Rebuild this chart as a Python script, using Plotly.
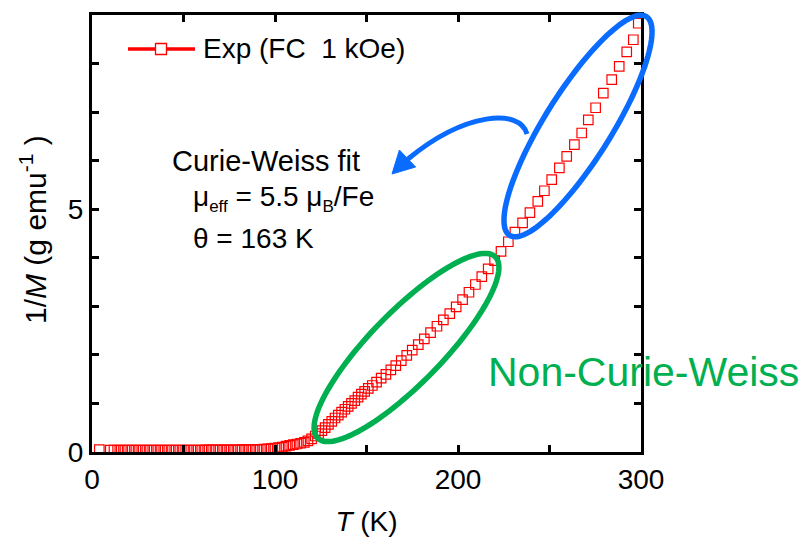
import plotly.graph_objects as go

# ---------------- data ----------------
T_low = [4, 10, 12, 14, 16, 18, 20, 22, 24, 26, 28, 30, 32, 34, 36, 38, 40, 42, 44, 46,
         48, 50, 52, 54, 56, 58, 60, 62, 64, 66, 68, 70, 72, 74, 76, 78, 80, 82, 84, 86,
         88, 90, 92, 94, 96, 98, 100, 102, 104, 106, 108, 110, 112, 114, 116, 118, 120]
invM_low = [0.05, 0.04, 0.04, 0.04, 0.04, 0.04, 0.04, 0.04, 0.04, 0.04, 0.04, 0.04, 0.04, 0.04, 0.04, 0.04,
            0.04, 0.04, 0.04, 0.04, 0.04, 0.04, 0.04, 0.04, 0.04, 0.04, 0.04, 0.045, 0.045, 0.045, 0.045,
            0.045, 0.045, 0.045, 0.045, 0.045, 0.045, 0.05, 0.05, 0.05, 0.05, 0.05, 0.055, 0.06, 0.065,
            0.07, 0.08, 0.09, 0.10, 0.12, 0.135, 0.15, 0.165, 0.18, 0.20, 0.23, 0.27]

T_mid = [122, 123.8, 125.6, 127.4, 129.2, 131, 132.8, 134.6, 136.4, 138.2, 140, 141.8, 143.6,
         145.4, 147.2, 149, 151, 153.2, 155.5, 158, 160.6, 163.3, 166, 169, 172, 175, 178.3,
         181.6, 185, 188.5, 192, 195.5, 199, 202.5, 206, 209.5, 213, 216.5, 220, 223.5, 227.5]
invM_mid = [0.33, 0.38, 0.44, 0.50, 0.57, 0.63, 0.70, 0.76, 0.82, 0.88, 0.94, 1.00, 1.06,
            1.13, 1.19, 1.25, 1.31, 1.37, 1.44, 1.52, 1.60, 1.69, 1.78, 1.88, 1.99, 2.10, 2.21,
            2.33, 2.46, 2.59, 2.72, 2.85, 2.99, 3.14, 3.29, 3.45, 3.61, 3.77, 3.94, 4.13, 4.33]

T_high = [231.1, 235.3, 239.3, 243.6, 247.2, 251.2, 255.4, 259.4, 263.6, 267.6, 271.2,
          275.2, 279.4, 284.0, 288.1, 292.2, 295.8, 298.5]
invM_high = [4.53, 4.72, 4.93, 5.16, 5.38, 5.61, 5.85, 6.09, 6.33, 6.57, 6.84,
             7.09, 7.39, 7.67, 7.94, 8.24, 8.49, 8.83]

x_tickvals = [0, 100, 200, 300]
y_tickvals = [0, 5]

series_name = "Exp (FC\u00a0 1 kOe)"
fit_title = "Curie-Weiss fit"
fit_mu = ("\u03bc<sub><span style='font-size:17px'>eff</span></sub> = 5.5 "
          "\u03bc<sub><span style='font-size:17px'>B</span></sub>/Fe")
fit_theta = "\u03b8 = 163 K"
non_cw = "Non-Curie-Weiss"
x_title = "<i>T</i> (K)"
y_title = "1/<i>M</i> (g emu<sup>-1</sup>\u00a0)"

T = T_low + T_mid + T_high
invM = invM_low + invM_mid + invM_high

# ---------------- layout geometry ----------------
W, H = 804, 544
L, R, TOP, B = 92, 641, 15, 452
FONT = "Liberation Sans, Arial, Helvetica, sans-serif"
RED = "#FF0000"
GREEN = "#00B050"
BLUE = "#0A6CFF"


def px(x, y):
    """pixel position -> paper coordinates"""
    return (x - L) / (R - L), (B - y) / (B - TOP)


def ellipse_path(cx, cy, a, b, ux, uy, n=120):
    import math
    vx, vy = -uy, ux
    pts = []
    for i in range(n + 1):
        t = 2 * math.pi * i / n
        x = cx + a * math.cos(t) * ux + b * math.sin(t) * vx
        y = cy + a * math.cos(t) * uy + b * math.sin(t) * vy
        pts.append(px(x, y))
    return "M " + " L ".join(f"{p[0]:.5f},{p[1]:.5f}" for p in pts) + " Z"


def pt(x, y):
    p = px(x, y)
    return f"{p[0]:.5f},{p[1]:.5f}"


fig = go.Figure()
fig.add_trace(go.Scatter(
    x=T, y=invM, mode="markers",
    marker=dict(symbol="square-open", size=9.5, color=RED, line=dict(width=1.2, color=RED)),
    showlegend=False,
))

shapes = []
# ellipses
shapes.append(dict(type="path", xref="paper", yref="paper",
                   path=ellipse_path(406.5, 347.5, 127, 36, 0.699, -0.714),
                   line=dict(color=GREEN, width=5.5)))
shapes.append(dict(type="path", xref="paper", yref="paper",
                   path=ellipse_path(578, 126, 129, 33.5, 0.530, -0.848),
                   line=dict(color=BLUE, width=5.5)))
# curved arrow
shapes.append(dict(type="path", xref="paper", yref="paper",
                   path=f"M {pt(527,134)} C {pt(520,108)} {pt(465,112)} {pt(408,159)}",
                   line=dict(color=BLUE, width=5)))
shapes.append(dict(type="path", xref="paper", yref="paper",
                   path=f"M {pt(392,174)} L {pt(399.4,150)} L {pt(415.6,167)} Z",
                   fillcolor=BLUE, line=dict(color=BLUE, width=1)))
# legend glyph
x0, y0 = px(128, 49)
x1, _ = px(195, 49)
shapes.append(dict(type="line", xref="paper", yref="paper", x0=x0, y0=y0, x1=x1, y1=y0,
                   line=dict(color=RED, width=3.5)))
a0 = px(155.5, 43.5)
a1 = px(166.5, 54.5)
shapes.append(dict(type="rect", xref="paper", yref="paper", x0=a0[0], y0=a1[1], x1=a1[0], y1=a0[1],
                   fillcolor="white", line=dict(color=RED, width=1.3)))

annotations = []


def add_text(text, x, y, size=28, color="black", xanchor="left", angle=0):
    p = px(x, y)
    annotations.append(dict(text=text, x=p[0], y=p[1], xref="paper", yref="paper",
                            xanchor=xanchor, yanchor="middle", showarrow=False, textangle=angle,
                            font=dict(family=FONT, size=size, color=color)))


add_text(series_name, 201, 49)
add_text(fit_title, 170, 161, size=29)
add_text(fit_mu, 191, 198)
add_text(fit_theta, 191, 238)
add_text(non_cw, 486, 372, size=41, color=GREEN)
add_text(y_title, 33, 230, size=30, xanchor="center", angle=-90)

axis_common = dict(
    showline=True, linecolor="black", linewidth=3, mirror="ticks",
    ticks="inside", ticklen=7, tickwidth=3, tickcolor="black",
    showgrid=False, zeroline=False,
    tickfont=dict(family=FONT, size=28, color="black"),
)

fig.update_layout(
    width=W, height=H,
    margin=dict(l=L, r=W - R, t=TOP, b=H - B, pad=0),
    paper_bgcolor="white", plot_bgcolor="white",
    font=dict(family=FONT, size=28, color="black"),
    xaxis=dict(range=[0, 300], tickvals=x_tickvals,
               minor=dict(dtick=50, ticks="inside", ticklen=7, tickwidth=3, tickcolor="black"),
               title=dict(text=x_title, font=dict(family=FONT, size=28), standoff=18),
               **axis_common),
    yaxis=dict(range=[0, 9], tickvals=y_tickvals,
               minor=dict(dtick=1, ticks="inside", ticklen=7, tickwidth=3, tickcolor="black"),
               **axis_common),
    shapes=shapes,
    annotations=annotations,
    showlegend=False,
)

fig.write_html("out.html")
